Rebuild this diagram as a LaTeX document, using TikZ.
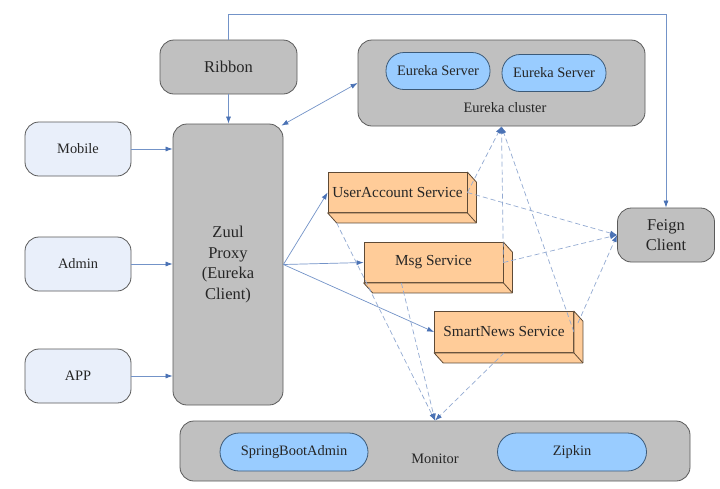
\documentclass[tikz,border=0pt]{standalone}
\usepackage{fontspec}
\setmainfont{Liberation Serif}
\usetikzlibrary{arrows.meta,calc}

\definecolor{boxgray}{HTML}{C0C0C0}
\definecolor{boxline}{HTML}{5A5A5A}
\definecolor{clientfill}{HTML}{E9EFFA}
\definecolor{serverfill}{HTML}{99CCFF}
\definecolor{serverline}{HTML}{3C5A78}
\definecolor{svcfill}{HTML}{FFCC99}
\definecolor{svcline}{HTML}{5E4A36}
\definecolor{linkblue}{HTML}{7393C8}
\definecolor{tipblue}{HTML}{4A72B5}
\definecolor{dashblue}{HTML}{93AAD2}

\tikzset{btip/.tip={Latex[length=7pt,width=5pt,color=tipblue]}}

\begin{document}
\begin{tikzpicture}[x=1pt, y=-1pt,
				every node/.style={inner sep=0, text=black!85, font=\fontsize{14.4}{17}\selectfont},
				graybox/.style={draw=boxline, fill=boxgray, rounded corners=14pt, line width=0.8pt},
				client/.style={draw=boxline, fill=clientfill, rounded corners=14pt, minimum width=106pt, minimum height=54pt, line width=0.8pt},
				server/.style={draw=serverline, fill=serverfill, rounded corners=18pt, minimum height=37pt, line width=0.8pt},
				service/.style={draw=svcline, fill=svcfill, minimum width=139pt, minimum height=40pt, line width=0.8pt, font=\fontsize{15.3}{18}\selectfont},
				big/.style={font=\fontsize{16.5}{20.5}\selectfont, align=center},
				link/.style={draw=linkblue, line width=0.7pt, -btip},
				dlink/.style={link, draw=dashblue, dash pattern=on 5pt off 3pt},
			]
			\fill[white] (0,0) rectangle (720,488);
			\useasboundingbox (0,0) rectangle (720,488);
			% gateway side
			\node[graybox, big, minimum width=137pt, minimum height=54pt] (ribbon) at (228.5,67) {Ribbon};
			\node[graybox, big, minimum width=110pt, minimum height=281pt] (zuul) at (228,264.5) {Zuul\\Proxy\\(Eureka\\Client)};
			\node[client] (mobile) at (78,149) {Mobile};
			\node[client] (admin) at (78,264) {Admin};
			\node[client] (app) at (78,376) {APP};
			% registry
			\node[graybox, minimum width=287pt, minimum height=86pt] (eureka) at (501.5,83) {};
			\node[server, minimum width=104pt] (server1) at (438,71) {Eureka Server};
			\node[server, minimum width=104pt] (server2) at (554,73) {Eureka Server};
			\node (eurekalbl) at (505,108) {Eureka cluster};
			\node[graybox, big, minimum width=97pt, minimum height=54pt] (feign) at (666,235) {Feign\\Client};
			% services
			\node[service] (useracct) at (397.5,192.5) {UserAccount Service};
			\node[service] (msg) at (433.5,262.5) {Msg Service};
			\node[service, minimum height=41pt] (smartnews) at (504,332) {SmartNews Service};
			\foreach \s in {useracct,msg,smartnews}{
				\filldraw[draw=svcline, fill=svcfill, line width=0.8pt, line join=round]
					(\s.north east) -- ($(\s.north east)+(9,10)$) -- ($(\s.south east)+(9,10)$)
					-- ($(\s.south west)+(9,10)$) -- (\s.south west) -- (\s.south east) -- cycle;
				\draw[svcline, line width=0.8pt] (\s.south east) -- +(9,10);
			}
			% monitor
			\node[graybox, minimum width=510pt, minimum height=60pt] (monitor) at (435,451) {};
			\node[server, rounded corners=19pt, minimum width=148pt, minimum height=38pt] (sbadmin) at (294,452) {SpringBootAdmin};
			\node[server, rounded corners=19pt, minimum width=149pt, minimum height=38pt] (zipkin) at (572,452) {Zipkin};
			\node (monitorlbl) at (435,459) {Monitor};
			% solid connectors
			\foreach \c in {mobile,admin,app}
				\draw[link] (\c) -- (\c -| zuul.west);
			\draw[link] (ribbon.south) -- (ribbon.south |- zuul.north);
			\draw[link] (ribbon.north) -- ++(0,-25) -| (feign.north);
			\draw[link, btip-btip] ($(zuul.north east)+(-2,2)$) -- (eureka.west);
			\draw[link] (zuul.east) -- (useracct.west);
			\draw[link] (zuul.east) -- (msg.west);
			\draw[link] (zuul.east) -- (smartnews.west);
			% dashed connectors
			\draw[dlink] (useracct.east) -- (eureka.south);
			\draw[dlink] (msg.east) -- (eureka.south);
			\draw[dlink] (smartnews.east) -- (eureka.south);
			\draw[dlink] (useracct.east) -- (feign.west);
			\draw[dlink] (msg.east) -- (feign.west);
			\draw[dlink] ($(smartnews.north east)+(4,12)$) -- (feign.west);
			\draw[dlink] ($(useracct.south west)+(9,10)$) -- (monitor.north);
			\draw[dlink] ($(msg.south west)!0.27!(msg.south east)$) -- (monitor.north);
			\draw[dlink] (smartnews.south) -- (monitor.north);
			\end{tikzpicture}
\end{document}
